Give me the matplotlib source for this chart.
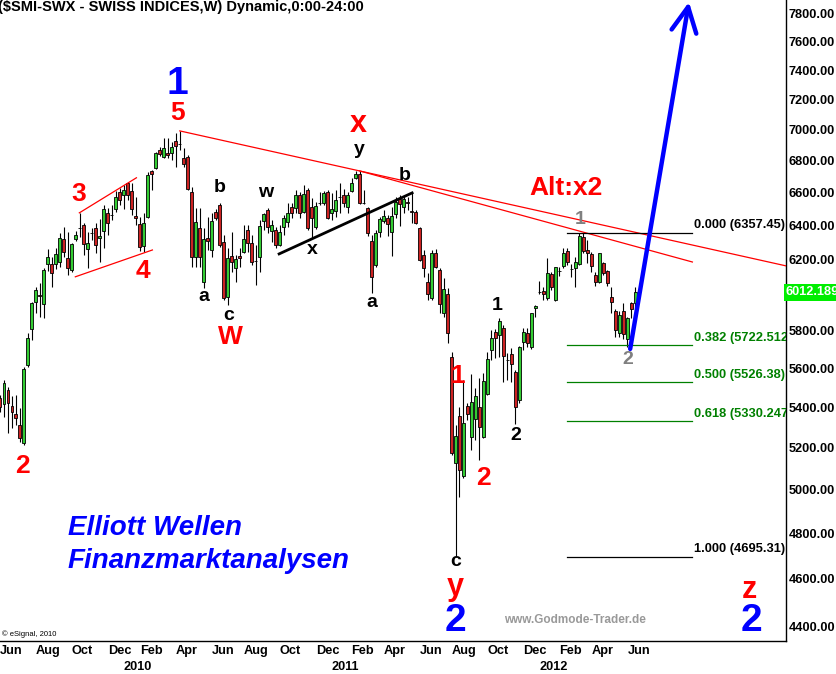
import matplotlib
matplotlib.use("Agg")
import matplotlib.pyplot as plt
import matplotlib.dates as mdates
from matplotlib.ticker import NullLocator, NullFormatter
import numpy as np
import pandas as pd

plt.rcParams['font.family'] = ['Liberation Sans', 'DejaVu Sans']

# ---------------- data (weekly OHLC, SMI) ----------------
start_week = '2009-06-01'
opens = [5447, 5416, 5488, 5406, 5366, 5311, 5222, 5617, 5810, 5959,
         5995, 5948, 6174, 6174, 6174, 6185, 6320, 6208, 6140, 6320,
         6385, 6403, 6261, 6355, 6385, 6326, 6368, 6476, 6466, 6500,
         6604, 6585, 6661, 6610, 6458, 6409, 6279, 6452, 6735, 6754,
         6869, 6824, 6850, 6850, 6927, 6910, 6817, 6824, 6604, 6214,
         6385, 6071, 6326, 6255, 6482, 6525, 6303, 5986, 6220, 6151,
         6220, 6244, 6373, 6297, 6193, 6214, 6427, 6494, 6368, 6373,
         6285, 6391, 6421, 6512, 6506, 6585, 6482, 6617, 6512, 6391,
         6535, 6537, 6604, 6476, 6488, 6573, 6585, 6512, 6610, 6692,
         6717, 6535, 6506, 6309, 6168, 6362, 6427, 6445, 6362, 6470,
         6561, 6512, 6543, 6485, 6482, 6385, 6226, 6071, 5981, 6238,
         6140, 5898, 6003, 5660, 5126, 5356, 5064, 5406, 5252, 5341,
         5400, 5252, 5468, 5697, 5793, 5777, 5815, 5645, 5676, 5580,
         5437, 5740, 5788, 5713, 5925, 6012, 6020, 5981, 6117, 5970,
         6136, 6162, 6250, 6147, 6151, 6174, 6332, 6255, 6232, 6111,
         6071, 6179, 6134, 5986, 5909, 5788, 5909, 5756, 5953, 5953]
highs = [5462, 5539, 5503, 5457, 5462, 5396, 5606, 5788, 5959, 6043,
         6065, 6151, 6261, 6214, 6267, 6356, 6391, 6362, 6295, 6368,
         6476, 6415, 6362, 6385, 6415, 6439, 6525, 6506, 6525, 6610,
         6629, 6648, 6667, 6661, 6573, 6452, 6476, 6729, 6742, 6856,
         6888, 6946, 6946, 6921, 6979, 6992, 6882, 6837, 6635, 6506,
         6506, 6385, 6452, 6476, 6500, 6537, 6344, 6267, 6362, 6226,
         6267, 6403, 6403, 6344, 6285, 6433, 6476, 6506, 6433, 6391,
         6403, 6464, 6537, 6537, 6617, 6604, 6648, 6629, 6567, 6543,
         6604, 6610, 6617, 6598, 6617, 6661, 6623, 6604, 6692, 6735,
         6735, 6617, 6512, 6344, 6373, 6452, 6494, 6464, 6512, 6573,
         6585, 6585, 6573, 6598, 6494, 6391, 6255, 6123, 6255, 6261,
         6151, 6094, 6037, 5686, 5311, 5400, 5539, 5421, 5570, 5498,
         5550, 5575, 5686, 5804, 5809, 5870, 5831, 5681, 5708, 5591,
         5718, 5815, 5815, 5898, 5942, 6077, 6043, 6208, 6128, 6157,
         6157, 6267, 6267, 6174, 6214, 6357, 6356, 6314, 6244, 6128,
         6238, 6185, 6140, 6043, 5920, 5909, 5953, 5876, 5959, 6043]
lows = [5376, 5351, 5272, 5296, 5311, 5227, 5212, 5606, 5750, 5898,
        5876, 5870, 6134, 6043, 6145, 6157, 6214, 6111, 6128, 6309,
        6332, 6226, 6151, 6314, 6238, 6185, 6267, 6344, 6433, 6482,
        6525, 6500, 6555, 6464, 6403, 6250, 6244, 6445, 6617, 6750,
        6830, 6817, 6817, 6805, 6760, 6869, 6760, 6617, 6157, 6157,
        6157, 6037, 6255, 6214, 6433, 6273, 5970, 5942, 6128, 6071,
        6157, 6238, 6244, 6168, 6054, 6128, 6373, 6356, 6303, 6267,
        6279, 6344, 6391, 6445, 6476, 6445, 6476, 6373, 6326, 6379,
        6525, 6525, 6439, 6433, 6452, 6476, 6512, 6476, 6604, 6686,
        6531, 6531, 6338, 6008, 6157, 6332, 6415, 6338, 6220, 6445,
        6397, 6476, 6494, 6415, 6409, 6190, 6100, 5970, 5970, 6151,
        5898, 5876, 5734, 5164, 4695, 4965, 5054, 5336, 5188, 5237,
        5140, 5247, 5462, 5644, 5655, 5660, 5529, 5539, 5529, 5316,
        5421, 5697, 5713, 5702, 5876, 6003, 5970, 5970, 6026, 5964,
        6106, 6151, 6168, 6100, 6043, 6168, 6238, 6179, 6128, 6048,
        6066, 6111, 6048, 5898, 5766, 5766, 5756, 5713, 5870, 5925]
closes = [5400, 5524, 5421, 5376, 5346, 5247, 5596, 5761, 5953, 6026,
          5990, 6140, 6214, 6123, 6232, 6326, 6244, 6151, 6291, 6344,
          6387, 6291, 6297, 6357, 6285, 6338, 6500, 6415, 6463, 6573,
          6555, 6617, 6585, 6500, 6445, 6273, 6415, 6710, 6717, 6850,
          6843, 6882, 6837, 6888, 6895, 6905, 6778, 6623, 6214, 6421,
          6214, 6320, 6309, 6427, 6445, 6285, 5981, 6208, 6185, 6202,
          6208, 6320, 6297, 6185, 6190, 6397, 6470, 6391, 6403, 6285,
          6362, 6445, 6476, 6476, 6585, 6476, 6591, 6385, 6445, 6518,
          6537, 6598, 6445, 6500, 6555, 6575, 6537, 6585, 6661, 6717,
          6537, 6533, 6356, 6100, 6356, 6439, 6458, 6409, 6458, 6543,
          6531, 6561, 6537, 6480, 6415, 6197, 6151, 6003, 6238, 6157,
          5948, 6031, 5788, 5173, 5257, 5092, 5322, 5366, 5426, 5457,
          5301, 5534, 5649, 5761, 5761, 5853, 5665, 5642, 5622, 5400,
          5713, 5793, 5734, 5898, 5937, 6016, 6003, 6123, 6043, 6157,
          6134, 6238, 6185, 6145, 6185, 6338, 6250, 6238, 6162, 6071,
          6238, 6123, 6066, 5959, 5804, 5887, 5782, 5870, 5920, 6012.19]

last_price = 6012.189
y_ticks = [7800, 7600, 7400, 7200, 7000, 6800, 6600, 6400, 6200,
           5800, 5600, 5400, 5200, 5000, 4800, 4600, 4400]
month_labels = ['Jun', 'Aug', 'Oct', 'Dec', 'Feb', 'Apr']
year_labels = ['2010', '2011', '2012']

fib_ratios = [0.000, 0.382, 0.500, 0.618, 1.000]
fib_prices = [6357.45, 5722.512, 5526.38, 5330.247, 4695.31]
fib_text = ['0.000 (6357.45)', '0.382 (5722.512)', '0.500 (5526.38)',
            '0.618 (5330.247)', '1.000 (4695.31)']
fib_colors = ['black', '#008000', '#008000', '#008000', 'black']
fib_span = ['2012-02-19', '2012-09-26']

# trend lines: (date, price) pairs
red_main = [('2010-04-12', 6992), ('2011-02-21', 6735)]   # extended to right edge
red_second = [('2011-02-21', 6735), ('2012-09-26', 6185)]
red_chan_up = [('2009-10-18', 6476), ('2010-01-26', 6692)]
red_chan_lo = [('2009-10-11', 6100), ('2010-02-23', 6255)]
black_x = [('2010-10-03', 6232), ('2011-05-24', 6598)]
blue_arrow = [('2012-06-09', 5702), ('2012-09-20', 7888)]

# ---------------- figure ----------------
W, H = 837, 674
fig = plt.figure(figsize=(W / 100, H / 100), dpi=100)
fig.patch.set_facecolor('white')
ax = fig.add_axes([0, 33 / H, 786 / W, 641 / H])

o = np.array(opens, float); h = np.array(highs, float)
l = np.array(lows, float); c = np.array(closes, float)
dates = pd.date_range(start_week, periods=len(o), freq='7D')
x = mdates.date2num(dates)

ax.set_yscale('log')
ax.set_ylim(4338.8, 7902.8)
ax.set_xlim(x[0] + 1.2, x[0] + 1377)

up = c >= o
cols = np.where(up, '#33cc33', '#cc2222')
ax.vlines(x, l, h, color='black', lw=0.8, zorder=2)
ax.bar(x, np.abs(c - o), bottom=np.minimum(o, c), width=5.2, color=cols,
       edgecolor='black', linewidth=0.6, zorder=3)


def dn(s):
    return mdates.date2num(pd.Timestamp(s))


def seg(pts, **kw):
    ax.plot([dn(pts[0][0]), dn(pts[1][0])], [pts[0][1], pts[1][1]], **kw)


# main red line from wave-5 top through x-top, extended to right edge
x1, p1 = dn(red_main[0][0]), red_main[0][1]
x2, p2 = dn(red_main[1][0]), red_main[1][1]
xr = ax.get_xlim()[1]
slope = (np.log(p2) - np.log(p1)) / (x2 - x1)
ax.plot([x1, xr], [p1, np.exp(np.log(p1) + slope * (xr - x1))],
        color='#ff0000', lw=0.9, zorder=4)
seg(red_second, color='#ff0000', lw=0.9, zorder=4)
seg(red_chan_up, color='#ff0000', lw=0.9, zorder=4)
seg(red_chan_lo, color='#ff0000', lw=0.9, zorder=4)
seg(black_x, color='black', lw=2.0, zorder=4)

# fibonacci levels
fx0, fx1 = dn(fib_span[0]), dn(fib_span[1])
for pr, tx, col in zip(fib_prices, fib_text, fib_colors):
    ax.plot([fx0, fx1], [pr, pr], color=col, lw=0.9, zorder=4)
    t = ax.annotate(tx, xy=(fx1, pr), xytext=(1, 1), textcoords='offset points',
                    ha='left', va='bottom', fontsize=9.3, fontweight='bold', color=col,
                    annotation_clip=False)
    t.set_clip_on(True)
    t.set_clip_box(ax.bbox)

# blue arrow
ax.annotate('', xy=(dn(blue_arrow[1][0]), blue_arrow[1][1]),
            xytext=(dn(blue_arrow[0][0]), blue_arrow[0][1]),
            arrowprops=dict(arrowstyle='->,head_length=0.9,head_width=0.45',
                            color='#0000ff', lw=3.2, shrinkA=0, shrinkB=0,
                            mutation_scale=20),
            annotation_clip=False, zorder=6)

# axes styling
ax.spines['top'].set_visible(False)
ax.spines['left'].set_visible(False)
ax.spines['right'].set_linewidth(1.0)
ax.spines['bottom'].set_linewidth(1.0)
ax.yaxis.tick_right()
ax.set_yticks(y_ticks, [f'{v:.2f}' for v in y_ticks])
ax.yaxis.set_minor_locator(NullLocator())
ax.yaxis.set_minor_formatter(NullFormatter())
ax.tick_params(axis='y', length=0, pad=2, labelsize=9.2)
for t in ax.get_yticklabels():
    t.set_fontweight('bold')

# month ticks at first weekly bar of each labelled month
mpos, mlab, ypos = [], [], []
names = ['Jan', 'Feb', 'Mar', 'Apr', 'May', 'Jun', 'Jul', 'Aug', 'Sep', 'Oct', 'Nov', 'Dec']
seen = set()
for d, xv in zip(dates, x):
    key = (d.year, d.month)
    if key in seen:
        continue
    seen.add(key)
    nm = names[d.month - 1]
    if nm in month_labels:
        mpos.append(xv); mlab.append(nm)
    if d.month == 1 and str(d.year) in year_labels:
        ypos.append(xv)
ax.set_xticks(mpos, mlab)
ax.set_xticks(ypos, year_labels, minor=True)
ax.tick_params(axis='x', which='major', length=0, pad=3, labelsize=9.2)
ax.tick_params(axis='x', which='minor', length=0, pad=14.5, labelsize=9.2)
for t in ax.get_xticklabels() + ax.get_xticklabels(minor=True):
    t.set_fontweight('bold'); t.set_ha('left')

# last price box
ax.text(1.0, last_price, f'{last_price:.3f}', transform=ax.get_yaxis_transform(),
        ha='left', va='center', color='white', fontsize=9.2, fontweight='bold',
        bbox=dict(boxstyle='square,pad=0.18', facecolor='#00ee00', edgecolor='none'),
        clip_on=False, zorder=7)


# ---------------- text annotations (pixel layout) ----------------
def ptext(px, py, s, **kw):
    kw.setdefault('ha', 'center'); kw.setdefault('va', 'center')
    kw.setdefault('fontweight', 'bold')
    fig.text(px / W, 1 - py / H, s, **kw)


ptext(-2, 7, '($SMI-SWX - SWISS INDICES,W) Dynamic,0:00-24:00', ha='left', fontsize=10.5)
ptext(2, 634, '© eSignal, 2010', ha='left', fontsize=5.5, fontweight='normal')

BLUE, RED, GRAY = '#0000ff', '#ff0000', '#808080'
ptext(177, 84, '1', color=BLUE, fontsize=28)
ptext(455, 621, '2', color=BLUE, fontsize=28)
ptext(751, 621, '2', color=BLUE, fontsize=28)

for px, py, s in [(178, 113, '5'), (79, 194, '3'), (143, 271, '4'), (22, 466, '2'),
                  (230, 337, 'W'), (458, 376, '1'), (483, 478, '2')]:
    ptext(px, py, s, color=RED, fontsize=19)
ptext(358, 124, 'x', color=RED, fontsize=22)
ptext(455, 587, 'y', color=RED, fontsize=22)
ptext(749, 590, 'z', color=RED, fontsize=22)
ptext(566, 188, 'Alt:x2', color=RED, fontsize=19)

for px, py, s in [(220, 187, 'b'), (204, 296, 'a'), (229, 316, 'c'), (266, 193, 'w'),
                  (312, 250, 'x'), (359, 150, 'y'), (405, 176, 'b'), (372, 303, 'a'),
                  (497, 305, '1'), (516, 436, '2'), (456, 562, 'c')]:
    ptext(px, py, s, color='black', fontsize=14)
ptext(580, 219, '1', color=GRAY, fontsize=14)
ptext(628, 360, '2', color=GRAY, fontsize=14)

ptext(68, 528, 'Elliott Wellen', ha='left', color=BLUE, fontsize=20, fontstyle='italic')
ptext(68, 561, 'Finanzmarktanalysen', ha='left', color=BLUE, fontsize=20, fontstyle='italic')
ptext(575, 620, 'www.Godmode-Trader.de', color='#999999', fontsize=8.5)

fig.savefig('out.png', dpi=100)
